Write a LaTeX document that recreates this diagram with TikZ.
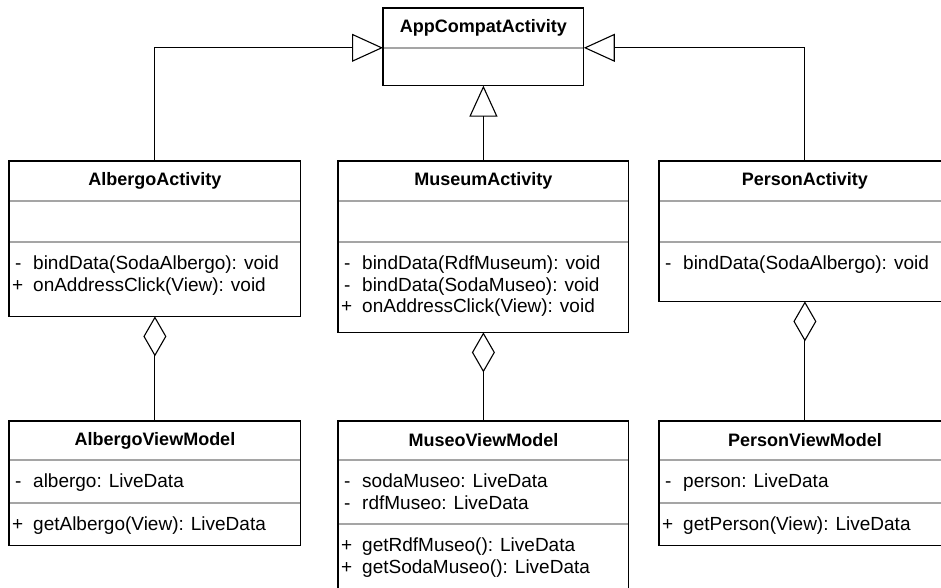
\documentclass[tikz,border=0pt]{standalone}
\usepackage{fontspec}
\setmainfont{Liberation Sans}
\usetikzlibrary{arrows.meta, positioning}
\definecolor{SepGray}{RGB}{165, 165, 165}
\newcommand{\priv}{\makebox[21pt][l]{\hspace{3pt}-}}
\newcommand{\publ}{\makebox[21pt][l]{+}}

\begin{document}
\begin{tikzpicture}[x=1pt, y=-1pt,
        head/.style={rectangle, draw=SepGray, line width=0.8pt, anchor=north west, inner sep=0pt, minimum height=39pt, font=\bfseries\fontsize{18}{21.5}\selectfont},
        part/.style={rectangle, draw=SepGray, line width=0.8pt, inner sep=0pt},
        member/.style={anchor=north west, inner sep=0pt, align=left, xshift=3pt, yshift=-14pt, font=\fontsize{19}{21.5}\selectfont},
        frame/.style={draw=black, line width=1.2pt},
        inherit/.style={-{Triangle[open, length=31pt, width=28pt]}, line width=1.1pt},
        aggr/.style={-{Diamond[open, length=40pt, width=23pt]}, line width=1.1pt}
    ]
        \path[fill=white, use as bounding box] (0,0) rectangle (941,587);
        % parent class
        \node[head, minimum width=200pt] (app) at (383,8) {AppCompatActivity};
        \node[part, minimum width=200pt, minimum height=37pt, below=0pt of app] (appA) {};
        \draw[frame] (app.north west) rectangle (appA.south east);
        % activities
        \node[head, minimum width=291pt] (albergo) at (9,161) {AlbergoActivity};
        \node[part, minimum width=291pt, minimum height=40pt, below=0pt of albergo] (albergoA) {};
        \node[part, minimum width=291pt, minimum height=74pt, below=0pt of albergoA] (albergoO) {};
        \node[member] (albergoM) at (albergoO.north west) {\priv bindData(SodaAlbergo): void\\\publ onAddressClick(View): void};
        \draw[frame] (albergo.north west) rectangle (albergoO.south east);
        \node[head, minimum width=290pt] (museum) at (338,161) {MuseumActivity};
        \node[part, minimum width=290pt, minimum height=40pt, below=0pt of museum] (museumA) {};
        \node[part, minimum width=290pt, minimum height=90pt, below=0pt of museumA] (museumO) {};
        \node[member] (museumM) at (museumO.north west) {\priv bindData(RdfMuseum): void\\\priv bindData(SodaMuseo): void\\\publ onAddressClick(View): void};
        \draw[frame] (museum.north west) rectangle (museumO.south east);
        \node[head, minimum width=291pt] (person) at (659,161) {PersonActivity};
        \node[part, minimum width=291pt, minimum height=40pt, below=0pt of person] (personA) {};
        \node[part, minimum width=291pt, minimum height=59pt, below=0pt of personA] (personO) {};
        \node[member] (personM) at (personO.north west) {\priv bindData(SodaAlbergo): void};
        \draw[frame] (person.north west) rectangle (personO.south east);
        % view models
        \node[head, minimum width=291pt, minimum height=38pt] (albergoVM) at (9,421) {AlbergoViewModel};
        \node[part, minimum width=291pt, minimum height=42pt, below=0pt of albergoVM] (albergoVMA) {};
        \node[part, minimum width=291pt, minimum height=42pt, below=0pt of albergoVMA] (albergoVMO) {};
        \node[member] (albergoVMa) at (albergoVMA.north west) {\priv albergo: LiveData};
        \node[member] (albergoVMm) at (albergoVMO.north west) {\publ getAlbergo(View): LiveData};
        \draw[frame] (albergoVM.north west) rectangle (albergoVMO.south east);
        \node[head, minimum width=290pt, minimum height=38pt] (museoVM) at (338,421) {MuseoViewModel};
        \node[part, minimum width=290pt, minimum height=63pt, below=0pt of museoVM] (museoVMA) {};
        \node[part, minimum width=290pt, minimum height=68pt, below=0pt of museoVMA] (museoVMO) {};
        \node[member] (museoVMa) at (museoVMA.north west) {\priv sodaMuseo: LiveData\\\priv rdfMuseo: LiveData};
        \node[member] (museoVMm) at (museoVMO.north west) {\publ getRdfMuseo(): LiveData\\\publ getSodaMuseo(): LiveData};
        \draw[frame] (museoVM.north west) rectangle (museoVMO.south east);
        \node[head, minimum width=291pt, minimum height=38pt] (personVM) at (659,421) {PersonViewModel};
        \node[part, minimum width=291pt, minimum height=42pt, below=0pt of personVM] (personVMA) {};
        \node[part, minimum width=291pt, minimum height=42pt, below=0pt of personVMA] (personVMO) {};
        \node[member] (personVMa) at (personVMA.north west) {\priv person: LiveData};
        \node[member] (personVMm) at (personVMO.north west) {\publ getPerson(View): LiveData};
        \draw[frame] (personVM.north west) rectangle (personVMO.south east);
        % inheritance
        \draw[inherit] (albergo.north) |- (app.south west);
        \draw[inherit] (museum.north) -- (appA.south);
        \draw[inherit] (person.north) |- (app.south east);
        % aggregation
        \draw[aggr] (albergoVM.north) -- (albergoO.south);
        \draw[aggr] (museoVM.north) -- (museumO.south);
        \draw[aggr] (personVM.north) -- (personO.south);
    \end{tikzpicture}
\end{document}
